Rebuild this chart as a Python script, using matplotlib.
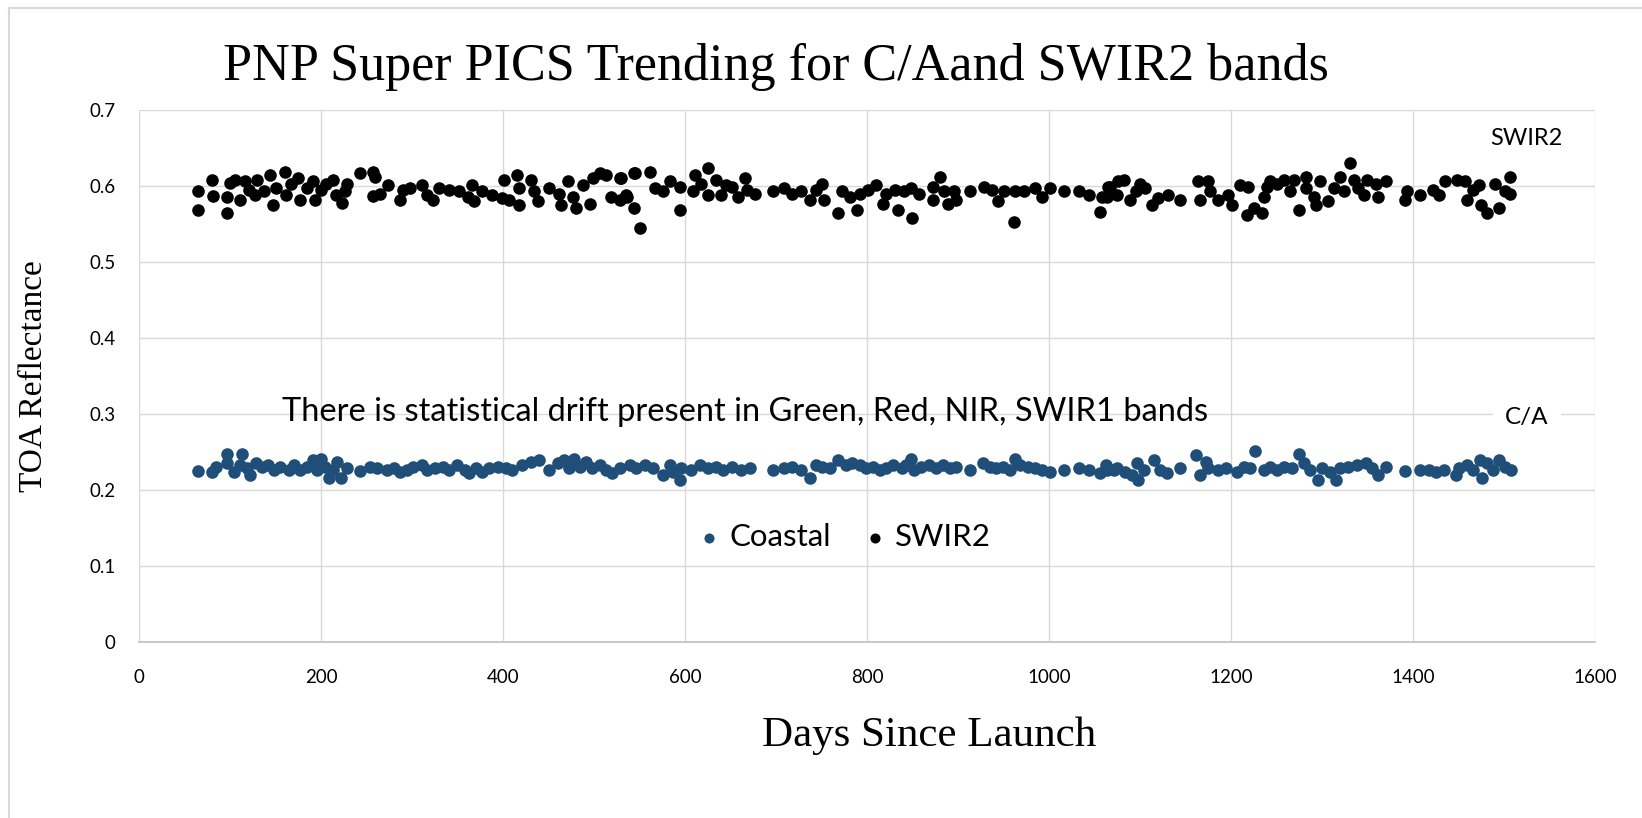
import matplotlib.pyplot as plt
from matplotlib.lines import Line2D

# SWIR2 band, days since launch and TOA reflectance
swir2_days = [
    65, 65, 80, 81, 97, 97, 100, 105, 111, 116, 121, 127, 130, 137, 144, 147,
    151, 160, 162, 167, 175, 177, 184, 191, 193, 200, 205, 213, 216, 223, 226,
    228, 243, 257, 259, 257, 274, 265, 287, 290, 298, 311, 316, 323, 330, 341,
    352, 361, 366, 368, 377, 388, 399, 406, 401, 415, 418, 418, 431, 434, 438,
    451, 462, 464, 471, 477, 480, 488, 495, 499, 506, 513, 519, 528, 528, 535,
    544, 544, 550,
    530, 536, 545, 562, 567, 576, 583, 594, 594, 611, 609, 618, 625, 625, 634,
    640, 645, 652, 658, 666, 668, 677, 697, 709, 718, 727, 737, 744, 751, 753,
    768, 772, 781, 789, 792, 801, 810, 818, 821, 831, 834, 841, 848, 849, 857,
    872, 872, 880, 885, 889, 896, 898, 913, 929, 937, 944, 951, 961, 963, 972,
    985, 992, 1001, 1016, 1033, 1044, 1056, 1058, 1065, 1076,
    1064, 1067, 1075, 1082, 1089, 1096, 1100, 1105, 1113, 1120, 1131, 1144,
    1164, 1166, 1175, 1177, 1186, 1197, 1201, 1210, 1217, 1219, 1225, 1234,
    1236, 1240, 1243, 1251, 1258, 1265, 1269, 1275, 1282, 1282, 1291, 1293,
    1298, 1306, 1313, 1320, 1324, 1331, 1335, 1340, 1346, 1349, 1359, 1361,
    1370, 1391, 1393, 1408, 1422, 1428, 1435, 1448, 1457, 1459, 1466, 1472,
    1475, 1481, 1490, 1495, 1501, 1506, 1506,
]
swir2_vals = [
    0.593, 0.568, 0.608, 0.587, 0.565, 0.586, 0.604, 0.608, 0.582, 0.606, 0.595,
    0.588, 0.608, 0.593, 0.614, 0.575, 0.598, 0.619, 0.588, 0.603, 0.611, 0.582,
    0.597, 0.606, 0.582, 0.595, 0.603, 0.608, 0.588, 0.578, 0.593, 0.603, 0.617,
    0.619, 0.612, 0.587, 0.601, 0.590, 0.582, 0.595, 0.597, 0.601, 0.588, 0.582,
    0.597, 0.595, 0.593, 0.586, 0.601, 0.580, 0.593, 0.588, 0.584, 0.582, 0.608,
    0.614, 0.597, 0.575, 0.608, 0.593, 0.580, 0.597, 0.590, 0.575, 0.606, 0.586,
    0.571, 0.601, 0.577, 0.610, 0.617, 0.614, 0.586, 0.610, 0.582, 0.588, 0.617,
    0.571, 0.545,
    0.610, 0.586, 0.617, 0.619, 0.597, 0.593, 0.606, 0.599, 0.568, 0.614, 0.593,
    0.603, 0.624, 0.588, 0.608, 0.588, 0.601, 0.599, 0.586, 0.610, 0.595, 0.590,
    0.593, 0.597, 0.590, 0.593, 0.582, 0.595, 0.603, 0.582, 0.564, 0.593, 0.586,
    0.568, 0.590, 0.595, 0.601, 0.577, 0.590, 0.595, 0.568, 0.593, 0.597, 0.558,
    0.590, 0.599, 0.582, 0.612, 0.593, 0.577, 0.593, 0.582, 0.593, 0.599, 0.595,
    0.580, 0.593, 0.553, 0.593, 0.593, 0.597, 0.586, 0.597, 0.593, 0.593, 0.588,
    0.566, 0.586, 0.599, 0.606,
    0.586, 0.599, 0.588, 0.608, 0.582, 0.593, 0.603, 0.597, 0.575, 0.584, 0.588,
    0.582, 0.606, 0.582, 0.606, 0.593, 0.582, 0.588, 0.575, 0.601, 0.562, 0.599,
    0.571, 0.564, 0.586, 0.599, 0.606, 0.603, 0.608, 0.593, 0.608, 0.568, 0.612,
    0.597, 0.586, 0.575, 0.606, 0.580, 0.597, 0.612, 0.593, 0.630, 0.608, 0.597,
    0.588, 0.608, 0.603, 0.586, 0.606, 0.582, 0.593, 0.588, 0.595, 0.588, 0.606,
    0.608, 0.606, 0.582, 0.595, 0.601, 0.575, 0.564, 0.603, 0.571, 0.593, 0.612,
    0.590,
]

# Coastal (C/A) band
coastal_days = [
    65, 80, 84, 97, 97, 104, 113, 111, 119, 122, 128, 135, 142, 148, 155, 165,
    170, 177, 184, 191, 195, 200, 204, 209, 213, 218, 222, 228, 243, 254, 261,
    272, 280, 287, 294, 301, 311, 316, 325, 334, 341, 349, 358, 363, 370, 377,
    385, 394, 403, 410, 421, 431, 440, 451, 460, 467, 473, 478, 484, 491, 498,
    506, 513, 520, 528, 539, 546,
    556, 565, 576, 583, 587, 594, 596, 607, 616, 625, 634, 642, 652, 662, 671,
    697, 709, 718, 727, 737, 744, 751, 759, 768, 777, 784, 792, 799, 806, 814,
    821, 828, 838, 843, 848, 852, 859, 868, 876, 883, 891, 898, 913, 927, 935,
    942, 949, 957, 963, 968, 977, 985, 992, 1001, 1016, 1033, 1044, 1056, 1063,
    1071,
    1064, 1075, 1084, 1091, 1097, 1098, 1104, 1115, 1122, 1130, 1144, 1162,
    1166, 1172, 1175, 1186, 1195, 1206, 1214, 1221, 1226, 1236, 1243, 1251,
    1258, 1267, 1275, 1280, 1287, 1296, 1300, 1309, 1315, 1320, 1329, 1338,
    1348, 1355, 1361, 1370, 1391, 1408, 1417, 1425, 1434, 1447, 1450, 1459,
    1466, 1474, 1476, 1481, 1488, 1495, 1501, 1508,
]
coastal_vals = [
    0.225, 0.224, 0.230, 0.248, 0.235, 0.224, 0.247, 0.233, 0.229, 0.220, 0.235,
    0.231, 0.233, 0.226, 0.231, 0.226, 0.233, 0.226, 0.231, 0.239, 0.226, 0.241,
    0.231, 0.2155, 0.226, 0.237, 0.2155, 0.229, 0.225, 0.230, 0.229, 0.226,
    0.229, 0.224, 0.226, 0.231, 0.233, 0.226, 0.229, 0.231, 0.226, 0.233, 0.226,
    0.222, 0.229, 0.224, 0.229, 0.231, 0.229, 0.226, 0.233, 0.237, 0.239, 0.226,
    0.235, 0.239, 0.229, 0.241, 0.231, 0.237, 0.229, 0.233, 0.226, 0.222, 0.229,
    0.233, 0.229,
    0.233, 0.229, 0.220, 0.233, 0.224, 0.213, 0.229, 0.226, 0.233, 0.229, 0.231,
    0.226, 0.231, 0.226, 0.229, 0.227, 0.229, 0.231, 0.226, 0.2155, 0.233,
    0.231, 0.229, 0.239, 0.233, 0.235, 0.233, 0.229, 0.231, 0.226, 0.229, 0.233,
    0.229, 0.233, 0.241, 0.226, 0.231, 0.233, 0.229, 0.233, 0.229, 0.231, 0.227,
    0.235, 0.231, 0.229, 0.231, 0.226, 0.241, 0.233, 0.231, 0.229, 0.226, 0.224,
    0.227, 0.229, 0.226, 0.222, 0.233, 0.226,
    0.226, 0.229, 0.224, 0.220, 0.235, 0.213, 0.226, 0.239, 0.226, 0.222, 0.229,
    0.246, 0.220, 0.237, 0.229, 0.226, 0.229, 0.224, 0.231, 0.229, 0.252, 0.226,
    0.231, 0.226, 0.231, 0.229, 0.247, 0.235, 0.226, 0.213, 0.229, 0.224, 0.213,
    0.229, 0.231, 0.233, 0.235, 0.229, 0.220, 0.230, 0.225, 0.227, 0.227, 0.224,
    0.226, 0.220, 0.229, 0.233, 0.226, 0.239, 0.2155, 0.235, 0.226, 0.239, 0.231,
    0.227,
]

x_ticks = [0, 200, 400, 600, 800, 1000, 1200, 1400, 1600]
y_ticks = [0, 0.1, 0.2, 0.3, 0.4, 0.5, 0.6, 0.7]

SANS = ["Lato", "DejaVu Sans"]
SERIF = ["Liberation Serif", "DejaVu Serif"]
GRID = "#d9d9d9"
COASTAL_COLOR = "#1F4E79"


def main() -> None:
    fig = plt.figure(figsize=(16.42, 8.18), dpi=100)
    ax = fig.add_axes([0.0847, 0.215, 0.8867, 0.6505])

    ax.scatter(coastal_days, coastal_vals, s=82, color=COASTAL_COLOR,
               label="Coastal", zorder=3, linewidths=0)
    ax.scatter(swir2_days, swir2_vals, s=82, color="black",
               label="SWIR2", zorder=3, linewidths=0)

    ax.set_xlim(0, 1600)
    ax.set_ylim(0, 0.7)
    ax.set_xticks(x_ticks)
    ax.set_yticks(y_ticks)
    ax.set_xticklabels([str(v) for v in x_ticks], family=SANS, fontsize=13.5)
    ax.set_yticklabels([f"{v:g}" for v in y_ticks], family=SANS, fontsize=13.5)
    ax.tick_params(axis="x", length=0, pad=19)
    ax.tick_params(axis="y", length=0, pad=17)
    ax.grid(True, color=GRID, linewidth=1)
    ax.set_axisbelow(True)
    for side in ["left", "right", "top"]:
        ax.spines[side].set_visible(False)
    ax.spines["bottom"].set_color("#bfbfbf")
    ax.spines["bottom"].set_linewidth(1.2)

    fig.text(0.5657, 1 - 736 / 818, "Days Since Launch", family=SERIF,
             fontsize=31, ha="center", va="center")
    ax.set_ylabel("TOA Reflectance", family=SERIF, fontsize=24, labelpad=29)
    fig.text(0.4726, 0.918, "PNP Super PICS Trending for C/Aand SWIR2 bands",
             family=SERIF, fontsize=37.5, ha="center", va="center")

    ax.text(666, 0.303,
            "There is statistical drift present in Green, Red, NIR, SWIR1 bands",
            family=SANS, fontsize=23.5, ha="center", va="center")
    ax.text(1525, 0.662, "SWIR2", family=SANS, fontsize=17,
            ha="center", va="center")
    ax.text(1525, 0.296, "C/A", family=SANS, fontsize=17.5, ha="center",
            va="center", bbox=dict(facecolor="white", edgecolor="none",
                                   pad=9))

    ax.legend(loc="center", bbox_to_anchor=(0.482, 0.197), ncol=2,
              frameon=False, prop={"family": SANS, "size": 22.5},
              markerscale=0.8, handletextpad=0.05, columnspacing=0.8,
              handlelength=1.2)

    # chart frame
    fig.add_artist(Line2D([9 / 1642, 9 / 1642], [0, 1 - 8 / 818],
                          color=GRID, linewidth=1.5))
    fig.add_artist(Line2D([9 / 1642, 1], [1 - 8 / 818, 1 - 8 / 818],
                          color=GRID, linewidth=1.5))

    fig.savefig("out.png", dpi=100)
    plt.close(fig)


if __name__ == "__main__":
    main()
